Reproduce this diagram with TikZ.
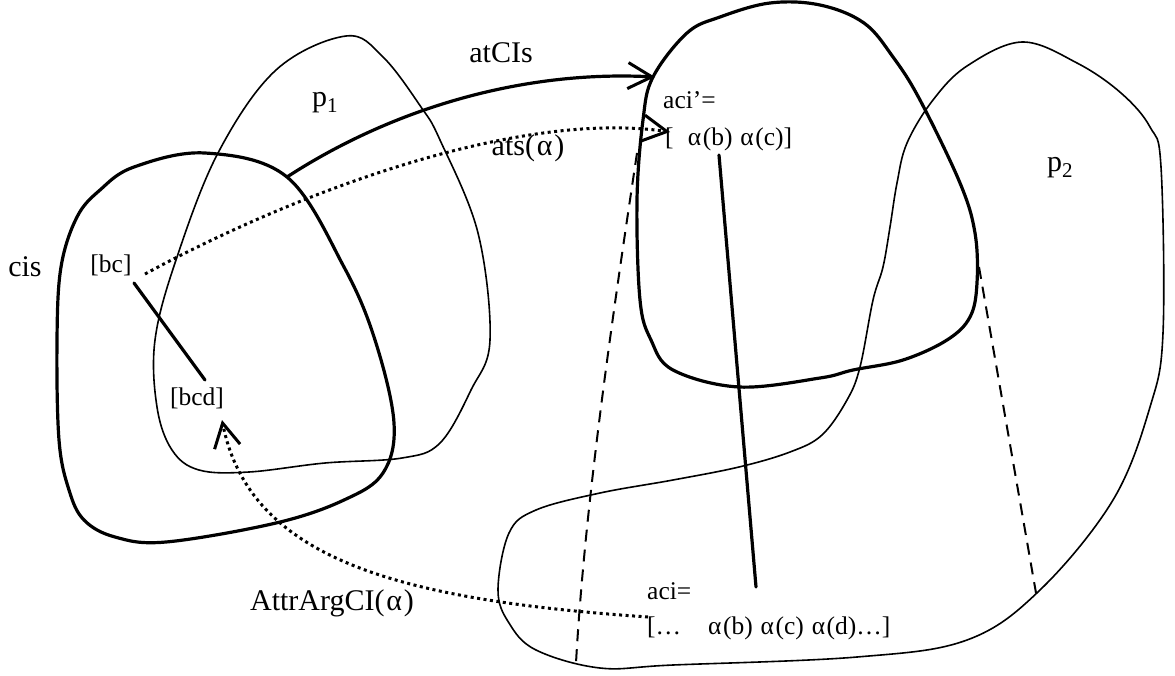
\documentclass[tikz,border=0pt]{standalone}
\usepackage{fontspec}
\setmainfont{Liberation Serif}
\usetikzlibrary{arrows.meta}
\newcommand\myal{\hspace{0.06em}α\hspace{0.06em}}
\tikzset{
  thickline/.style={line width=3.2pt, line join=round, line cap=round},
  thinline/.style={line width=1.6pt},
  dotline/.style={line width=3pt, dash pattern=on 3pt off 3.5pt},
  dashline/.style={line width=2pt, dash pattern=on 12pt off 8pt},
  bigtxt/.style={font=\fontsize{30}{35}\selectfont, inner sep=0pt},
  smalltxt/.style={font=\fontsize{25.5}{30}\selectfont, inner sep=0pt},
  barb/.style={-{Straight Barb[length=24pt, width=26pt, line width=3pt]}}
}
\begin{document}
\begin{tikzpicture}[x=1pt,y=-1pt]
\useasboundingbox (0,0) rectangle (1175,675);
% region outlines
\draw[thinline] plot[smooth cycle, tension=0.6] coordinates {(346,36) (383,57) (421,107) (440,140) (478,233) (490,340) (471,390) (440,443) (402,458) (325,463) (249,472) (199,470) (172,450) (157,407) (155,340) (176,260) (218,153) (276,70)};
\draw[thickline] plot[smooth cycle, tension=0.6] coordinates {(205,153) (287,177) (344,267) (375,340) (394,423) (383,473) (344,500) (276,523) (166,542) (115,537) (84,520) (69,490) (59,440) (57,340) (61,267) (77,217) (100,190) (134,167)};
\draw[thinline] plot[smooth cycle, tension=0.6] coordinates {(1022,42) (1077,63) (1121,93) (1150,127) (1161,167) (1163,333) (1150,407) (1113,500) (1040,590) (967,640) (857,657) (673,665) (600,668) (536,650) (509,623) (498,590) (509,533) (536,510) (600,493) (673,480) (739,467) (790,452) (822,435) (847,400) (860,367) (873,300) (883,267) (890,227) (897,183) (907,143) (933,100) (967,66)};
\draw[thickline] plot[smooth cycle, tension=0.6] coordinates {(720,17) (770,3) (820,5) (864,23) (893,57) (920,100) (960,183) (975,233) (977,283) (970,317) (947,340) (903,360) (853,370) (820,378) (739,387) (673,370) (651,340) (640,300) (637,200) (643,120) (653,77) (687,33)};
% labels
\node[bigtxt] (atcis) at (501,53) {atCIs};
\node[bigtxt] (p1) at (325,103) {p\textsubscript{1}};
\node[bigtxt] (ats) at (528,148) {ats(\myal)};
\node[bigtxt] (cis) at (25,267) {cis};
\node[bigtxt] (p2) at (1060,168) {p\textsubscript{2}};
\node[bigtxt] (attr) at (332,603) {AttrArgCI(\myal)};
\node[smalltxt] (bc) at (111,265) {[bc]};
\node[smalltxt] (bcd) at (197,398) {[bcd]};
\node[smalltxt, anchor=base west] (acip) at (663,108) {aci’=};
\node[smalltxt, anchor=base west] (acipl) at (665,145) {[\ \ \myal(b) \myal(c)]};
\node[smalltxt, anchor=base west] (aci) at (647,599) {aci=};
\node[smalltxt, anchor=base west] (acil) at (647,634) {[…\ \ \ \ \myal(b) \myal(c) \myal(d)…]};
% connector end points
\coordinate (a1) at (287,177);
\coordinate (a2) at (655,77);
\coordinate (s1) at (145,274);
\coordinate (s2) at (670,132);
\coordinate (r1) at (648,617);
\coordinate (r2) at (222,420);
\coordinate (l1) at (134,283);
\coordinate (l2) at (205,380);
\coordinate (v1) at (719,155);
\coordinate (v2) at (756,587);
\coordinate (d1) at (637,153);
\coordinate (d2) at (576,663);
\coordinate (e1) at (979,267);
\coordinate (e2) at (1036,593);
% connectors
\draw[thickline, barb] (a1) .. controls (390,110) and (520,70) .. (a2);
\draw[dotline, barb] (s1) .. controls (300,190) and (520,110) .. (s2);
\draw[dotline, barb] (r1) .. controls (400,600) and (250,560) .. (r2);
\draw[thickline] (l1) -- (l2);
\draw[thickline] (v1) -- (v2);
\draw[dashline] (d1) .. controls (615,300) and (585,500) .. (d2);
\draw[dashline] (e1) -- (e2);
\end{tikzpicture}
\end{document}
